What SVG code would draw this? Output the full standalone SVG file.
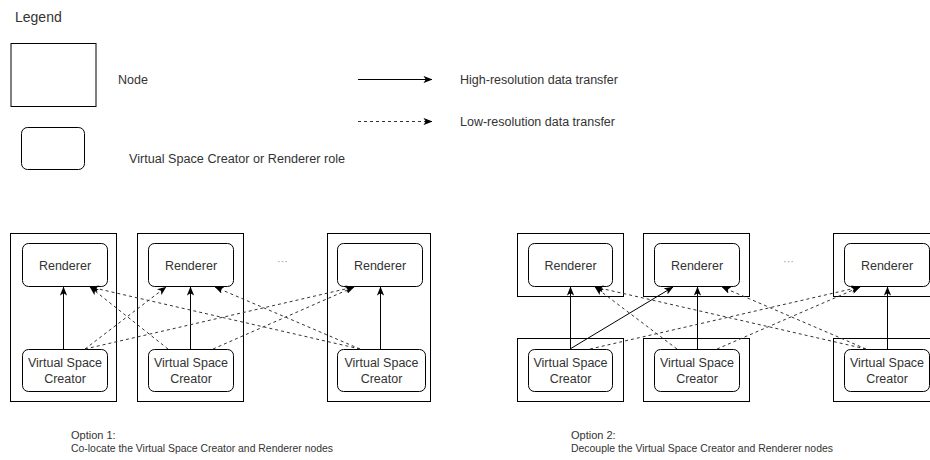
<svg xmlns="http://www.w3.org/2000/svg" width="930" height="460" viewBox="0 0 930 460">
<defs>
<marker id="ah" viewBox="0 0 10 8" refX="9.5" refY="4" markerWidth="9" markerHeight="7.5" markerUnits="userSpaceOnUse" orient="auto">
<path d="M0,0 L10,4 L0,8 L2.5,4 Z" fill="#000"/>
</marker>
</defs>
<style>
text{font-family:"Liberation Sans",Arial,sans-serif;fill:#333;}
.node{fill:#fff;stroke:#000;stroke-width:1;}
.role{fill:#fff;stroke:#000;stroke-width:1;}
.lbl{font-size:12.5px;text-anchor:middle;}
.leg{font-size:12.5px;}
.cap{font-size:11px;}
.solid{stroke:#000;stroke-width:1;fill:none;marker-end:url(#ah);}
.dash{stroke:#333;stroke-width:1;fill:none;stroke-dasharray:3 3;marker-end:url(#ah);}
.dots{font-size:11px;fill:#999;}
</style>
<rect width="930" height="460" fill="#fff"/>

<g id="legend">
<text x="15" y="22" font-size="14">Legend</text>
<rect class="node" x="11" y="43.5" width="85" height="63"/>
<text class="leg" x="118" y="84">Node</text>
<rect class="role" x="21.5" y="127.5" width="63" height="42" rx="6"/>
<text class="leg" x="129" y="163" textLength="216" lengthAdjust="spacingAndGlyphs">Virtual Space Creator or Renderer role</text>
<line x1="358" y1="79.5" x2="432" y2="79.5" class="solid"/>
<text class="leg" x="460" y="84" textLength="158" lengthAdjust="spacingAndGlyphs">High-resolution data transfer</text>
<line x1="358" y1="121.5" x2="432" y2="121.5" class="dash"/>
<text class="leg" x="460" y="126" textLength="155" lengthAdjust="spacingAndGlyphs">Low-resolution data transfer</text>
</g>

<!-- Option 1 -->
<g id="opt1-node1">
<rect class="node" x="10.5" y="233.5" width="106" height="168"/>
<rect class="role" x="22.5" y="243.5" width="85" height="43" rx="6"/>
<text class="lbl" x="65" y="269.5">Renderer</text>
<rect class="role" x="22.5" y="349.5" width="85" height="42" rx="6"/>
<text class="lbl" x="65" y="367">Virtual Space</text>
<text class="lbl" x="65" y="382.5">Creator</text>
</g>
<g id="opt1-node2">
<rect class="node" x="137.5" y="233.5" width="106" height="168"/>
<rect class="role" x="148.5" y="243.5" width="85" height="43" rx="6"/>
<text class="lbl" x="191" y="269.5">Renderer</text>
<rect class="role" x="148.5" y="349.5" width="85" height="42" rx="6"/>
<text class="lbl" x="191" y="367">Virtual Space</text>
<text class="lbl" x="191" y="382.5">Creator</text>
</g>
<text class="dots" x="277" y="265">···</text>
<g id="opt1-node3">
<rect class="node" x="327.5" y="233.5" width="103" height="168"/>
<rect class="role" x="337.5" y="243.5" width="85" height="43" rx="6"/>
<text class="lbl" x="380" y="269.5">Renderer</text>
<rect class="role" x="337.5" y="349.5" width="88" height="42" rx="6"/>
<text class="lbl" x="381.5" y="367">Virtual Space</text>
<text class="lbl" x="381.5" y="382.5">Creator</text>
</g>
<text class="cap" x="71" y="439">Option 1:</text>
<text class="cap" x="71" y="452" textLength="262" lengthAdjust="spacingAndGlyphs">Co-locate the Virtual Space Creator and Renderer nodes</text>

<!-- Option 2 -->
<g id="opt2-nodeA">
<rect class="node" x="517.5" y="233.5" width="106" height="63"/>
<rect class="node" x="517.5" y="338.5" width="106" height="63"/>
<rect class="role" x="528.5" y="243.5" width="84" height="43" rx="6"/>
<text class="lbl" x="570.5" y="269.5">Renderer</text>
<rect class="role" x="528.5" y="349.5" width="84" height="42" rx="6"/>
<text class="lbl" x="570.5" y="367">Virtual Space</text>
<text class="lbl" x="570.5" y="382.5">Creator</text>
</g>
<g id="opt2-nodeB">
<rect class="node" x="643.5" y="233.5" width="106" height="63"/>
<rect class="node" x="643.5" y="338.5" width="106" height="63"/>
<rect class="role" x="654.5" y="243.5" width="85" height="43" rx="6"/>
<text class="lbl" x="697" y="269.5">Renderer</text>
<rect class="role" x="654.5" y="349.5" width="85" height="42" rx="6"/>
<text class="lbl" x="697" y="367">Virtual Space</text>
<text class="lbl" x="697" y="382.5">Creator</text>
</g>
<text class="dots" x="783" y="265">···</text>
<g id="opt2-nodeC">
<rect class="node" x="833.5" y="233.5" width="110" height="63"/>
<rect class="node" x="833.5" y="338.5" width="110" height="63"/>
<rect class="role" x="844.5" y="243.5" width="85" height="43" rx="6"/>
<text class="lbl" x="887" y="269.5">Renderer</text>
<rect class="role" x="844.5" y="349.5" width="85" height="42" rx="6"/>
<text class="lbl" x="887" y="367">Virtual Space</text>
<text class="lbl" x="887" y="382.5">Creator</text>
</g>
<text class="cap" x="571" y="439">Option 2:</text>
<text class="cap" x="571" y="452" textLength="262" lengthAdjust="spacingAndGlyphs">Decouple the Virtual Space Creator and Renderer nodes</text>

<g id="connectors">
<!-- Option 1 -->
<line class="solid" x1="63.5" y1="349.5" x2="63.5" y2="287"/>
<line class="solid" x1="190.5" y1="349.5" x2="190.5" y2="287"/>
<line class="solid" x1="380.5" y1="349.5" x2="380.5" y2="287"/>
<line class="dash" x1="85" y1="349" x2="166" y2="287"/>
<line class="dash" x1="85" y1="349" x2="354" y2="287"/>
<line class="dash" x1="168" y1="349" x2="90" y2="287"/>
<line class="dash" x1="213" y1="349" x2="354" y2="287"/>
<line class="dash" x1="360" y1="349" x2="90" y2="287"/>
<line class="dash" x1="360" y1="349" x2="215" y2="287"/>
<!-- Option 2 -->
<line class="solid" x1="570.5" y1="349.5" x2="570.5" y2="287"/>
<line class="solid" x1="697.5" y1="349.5" x2="697.5" y2="287"/>
<line class="solid" x1="887.5" y1="349.5" x2="887.5" y2="287"/>
<line class="solid" x1="570" y1="349" x2="673" y2="287"/>
<line class="dash" x1="590" y1="349" x2="860" y2="287"/>
<line class="dash" x1="677" y1="349" x2="595" y2="287"/>
<line class="dash" x1="717" y1="349" x2="860" y2="287"/>
<line class="dash" x1="866" y1="349" x2="595" y2="287"/>
<line class="dash" x1="866" y1="349" x2="722" y2="287"/>
</g>
</svg>
